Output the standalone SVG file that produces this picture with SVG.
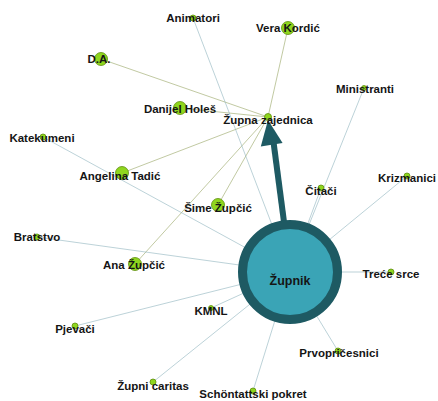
<svg xmlns="http://www.w3.org/2000/svg" width="438" height="401" viewBox="0 0 438 401">
<style>
.eg{stroke:#8f9e58;stroke-width:0.8;stroke-opacity:0.7;fill:none}
.eb{stroke:#8fb3bd;stroke-width:0.8;stroke-opacity:0.75;fill:none}
.n{fill:#8fd61e;stroke:#5e8d0c;stroke-width:0.8}
text{font-family:"Liberation Sans",Arial,sans-serif;font-weight:bold;font-size:11.5px;fill:#151515;text-anchor:middle}
</style>
<rect width="438" height="401" fill="#ffffff"/>
<g id="connectors">
<line class="eg" x1="101" y1="59" x2="268" y2="117"/>
<line class="eg" x1="180" y1="108" x2="268" y2="117"/>
<line class="eg" x1="288" y1="28" x2="268" y2="117"/>
<line class="eg" x1="122" y1="173" x2="268" y2="117"/>
<line class="eg" x1="218" y1="205" x2="268" y2="117"/>
<line class="eg" x1="135" y1="264" x2="268" y2="117"/>
<line class="eb" x1="193" y1="18" x2="290" y2="272"/>
<line class="eb" x1="364" y1="88" x2="290" y2="272"/>
<line class="eb" x1="43" y1="137" x2="290" y2="272"/>
<line class="eb" x1="321" y1="188" x2="290" y2="272"/>
<line class="eb" x1="407" y1="176" x2="290" y2="272"/>
<line class="eb" x1="37" y1="237" x2="290" y2="272"/>
<line class="eb" x1="391" y1="272" x2="290" y2="272"/>
<line class="eb" x1="211" y1="308" x2="290" y2="272"/>
<line class="eb" x1="75" y1="326" x2="290" y2="272"/>
<line class="eb" x1="338" y1="351" x2="290" y2="272"/>
<line class="eb" x1="153" y1="382" x2="290" y2="272"/>
<line class="eb" x1="253" y1="391" x2="290" y2="272"/>
<line x1="284" y1="222" x2="273.5" y2="142" stroke="#1e5a63" stroke-width="6"/>
<polygon points="268,120 282.6,143 260.8,146.4" fill="#1e5a63"/>
</g>
<g id="zupnik"><circle cx="290" cy="272" r="47.5" fill="#3aa4b6" stroke="#1e5a63" stroke-width="9"/><text x="290" y="285" style="font-size:12.5px">Župnik</text></g>
<g id="animatori"><circle class="n" cx="193" cy="18" r="3"/><text x="193" y="22">Animatori</text></g>
<g id="vera"><circle class="n" cx="288" cy="28" r="6.5"/><text x="288" y="32">Vera Kordić</text></g>
<g id="da"><circle class="n" cx="101" cy="59" r="6.5"/><text x="99" y="63">D.A.</text></g>
<g id="danijel"><circle class="n" cx="180" cy="108" r="6.5"/><text x="180" y="113">Danijel Holeš</text></g>
<g id="zupna"><circle class="n" cx="268" cy="117" r="3.5"/><text x="268" y="123.5">Župna zajednica</text></g>
<g id="ministranti"><circle class="n" cx="364" cy="88" r="2.5"/><text x="365" y="93">Ministranti</text></g>
<g id="katekumeni"><circle class="n" cx="43" cy="137" r="3"/><text x="42" y="142">Katekumeni</text></g>
<g id="angelina"><circle class="n" cx="122" cy="173" r="6.5"/><text x="120" y="180">Angelina Tadić</text></g>
<g id="sime"><circle class="n" cx="218" cy="205" r="6.5"/><text x="218" y="212">Šime Župčić</text></g>
<g id="citaci"><circle class="n" cx="321" cy="188" r="3"/><text x="321" y="195">Čitači</text></g>
<g id="krizmanici"><circle class="n" cx="407" cy="176" r="3"/><text x="407" y="182">Krizmanici</text></g>
<g id="bratstvo"><circle class="n" cx="37" cy="237" r="3"/><text x="37" y="241">Bratstvo</text></g>
<g id="ana"><circle class="n" cx="135" cy="264" r="6.5"/><text x="134" y="269">Ana Župčić</text></g>
<g id="trece"><circle class="n" cx="391" cy="272" r="3"/><text x="391" y="278">Treće srce</text></g>
<g id="kmnl"><circle class="n" cx="211" cy="308" r="2.5"/><text x="211" y="315">KMNL</text></g>
<g id="pjevaci"><circle class="n" cx="75" cy="326" r="3"/><text x="75" y="333">Pjevači</text></g>
<g id="prvo"><circle class="n" cx="338" cy="351" r="3"/><text x="339" y="357">Prvopričesnici</text></g>
<g id="caritas"><circle class="n" cx="153" cy="382" r="3"/><text x="153" y="390">Župni caritas</text></g>
<g id="schon"><circle class="n" cx="253" cy="391" r="3"/><text x="253" y="398">Schöntattski pokret</text></g>
</svg>
